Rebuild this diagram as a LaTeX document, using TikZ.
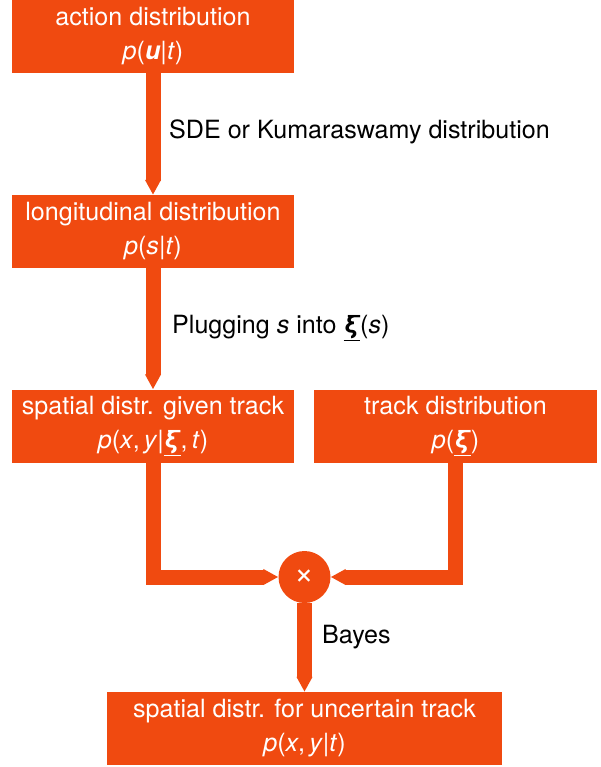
\documentclass[tikz,border=0pt]{standalone}
\usepackage{fontspec}
\setmainfont{TeX Gyre Heros}
\usetikzlibrary{arrows.meta}
\definecolor{flow}{RGB}{240,74,16}
\newcommand{\vi}[1]{\textit{#1}}
\newcommand{\trk}{\underline{\textbf{\textit{ξ}}}}
\newcommand{\boxfont}{\fontsize{25.1bp}{34bp}\selectfont}
\begin{document}
\begin{tikzpicture}[x=1bp,y=-1bp,
  box/.style={fill=flow, text=white, minimum height=73bp, inner sep=0pt,
              align=center, font=\boxfont},
  conn/.style={draw=flow, line width=15bp,
               -{Triangle[length=0pt 1, width=0pt 1]}},
  lbl/.style={anchor=west, text=black, inner sep=0pt, font=\boxfont}]
\useasboundingbox (0,0) rectangle (601,767);

% distributions
\node[box, minimum width=282bp] (act) at (153,36.5)
  {action distribution\\ \vi{p}(\textbf{\vi{u}}|\vi{t})};
\node[box, minimum width=282bp] (lon) at (153,231.5)
  {longitudinal distribution\\ \vi{p}(\vi{s}|\vi{t})};
\node[box, minimum width=282bp] (giv) at (153,426)
  {spatial distr. given track\\ \vi{p}(\vi{x},\,\vi{y}|\trk,\,\vi{t})};
\node[box, minimum width=283bp] (trk) at (455.5,426)
  {track distribution\\ \vi{p}(\trk)};
\node[circle, fill=flow, minimum size=52bp, inner sep=0pt, text=white,
      font=\fontsize{34bp}{34bp}\selectfont] (prod) at (304.5,577) {×};
\node[box, minimum width=395bp] (unc) at (304.5,728.5)
  {spatial distr. for uncertain track\\ \vi{p}(\vi{x},\,\vi{y}|\vi{t})};

% connectors
\draw[conn] (act) -- (lon);
\draw[conn] (lon) -- (giv);
\draw[conn] (giv.south) |- (prod);
\draw[conn] (trk.south) |- (prod);
\draw[conn] (prod) -- (unc);

% connector labels
\node[lbl] (l1) at (169,132) {SDE or Kumaraswamy distribution};
\node[lbl] (l2) at (172,328) {Plugging \vi{s} into \trk(\vi{s})};
\node[lbl] (l3) at (322,637) {Bayes};
\end{tikzpicture}
\end{document}
